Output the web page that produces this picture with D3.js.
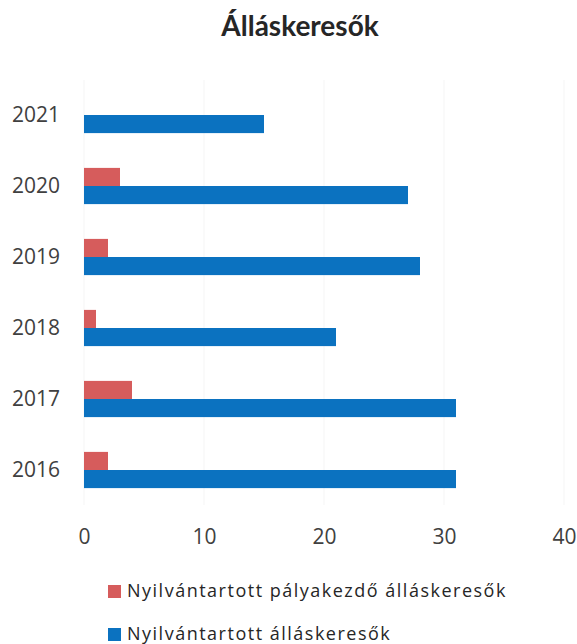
<!DOCTYPE html>
<html>
<head>
<meta charset="utf-8">
<script src="https://cdn.jsdelivr.net/npm/d3@7"></script>
<style>
  body { margin: 0; background: #fff; }
  svg { font-family: "Open Sans", sans-serif; }
</style>
</head>
<body>
<svg id="viz"></svg>
<script>
var width = 577;
var height = 644;

// data
var years = ["2021", "2020", "2019", "2018", "2017", "2016"];
var seriesNames = ["Nyilvántartott pályakezdő álláskeresők", "Nyilvántartott álláskeresők"];
var palyakezdo = [0, 3, 2, 1, 4, 2];
var allaskereso = [15, 27, 28, 21, 31, 31];
var xTicks = [0, 10, 20, 30, 40];
var colors = ["#d65c5c", "#0b72c0"];

var svg = d3.select("#viz")
    .attr("width", width)
    .attr("height", height);

var x = d3.scaleLinear()
    .domain([0, 40])
    .range([84, 564]);

var y = d3.scaleBand()
    .domain(years)
    .range([79.5, 505.5])
    .paddingInner(0.49)
    .paddingOuter(0.245);

var ySub = d3.scaleBand()
    .domain([0, 1])
    .range([0, y.bandwidth()]);

// title
svg.append("text")
    .attr("x", 300)
    .attr("y", 36)
    .attr("text-anchor", "middle")
    .style("font-family", "Lato, sans-serif")
    .style("font-size", "28px")
    .style("font-weight", "bold")
    .style("fill", "#262626")
    .text("Álláskeresők");

// faint gridlines
svg.append("g")
    .selectAll("line")
    .data(xTicks)
    .enter().append("line")
    .attr("x1", function (d) { return x(d); })
    .attr("x2", function (d) { return x(d); })
    .attr("y1", 80)
    .attr("y2", 505)
    .style("stroke", "#f5f5f5")
    .style("stroke-width", 1);

// bars
var groups = svg.append("g")
    .selectAll("g")
    .data(years)
    .enter().append("g")
    .attr("transform", function (d) { return "translate(0," + y(d) + ")"; });

groups.append("rect")
    .attr("x", x(0))
    .attr("y", ySub(0))
    .attr("height", ySub.bandwidth())
    .attr("width", function (d, i) { return x(palyakezdo[i]) - x(0); })
    .style("fill", colors[0]);

groups.append("rect")
    .attr("x", x(0))
    .attr("y", ySub(1))
    .attr("height", ySub.bandwidth())
    .attr("width", function (d, i) { return x(allaskereso[i]) - x(0); })
    .style("fill", colors[1]);

// y axis labels
var yAxis = d3.axisLeft(y).tickSize(0).tickPadding(0);
var yg = svg.append("g")
    .attr("transform", "translate(60,0)")
    .call(yAxis);
yg.select(".domain").remove();
yg.selectAll("text")
    .attr("text-anchor", "end")
    .attr("dy", "0.35em")
    .style("font-size", "21px")
    .style("font-family", "'Open Sans', sans-serif")
    .style("fill", "#404040");

// x axis labels
var xAxis = d3.axisBottom(x).tickValues(xTicks).tickSize(0).tickPadding(0);
var xg = svg.append("g")
    .attr("transform", "translate(0,529)")
    .call(xAxis);
xg.select(".domain").remove();
xg.selectAll("text")
    .attr("dy", "0.71em")
    .style("font-size", "21px")
    .style("font-family", "'Open Sans', sans-serif")
    .style("fill", "#404040");

// legend
var legend = svg.append("g")
    .selectAll("g")
    .data(seriesNames)
    .enter().append("g")
    .attr("transform", function (d, i) { return "translate(108," + (585 + i * 43) + ")"; });

legend.append("rect")
    .attr("width", 13)
    .attr("height", 13)
    .style("fill", function (d, i) { return colors[i]; });

legend.append("text")
    .attr("x", 19)
    .attr("y", 12)
    .style("font-size", "18px")
    .style("letter-spacing", "1.5px")
    .style("fill", "#262626")
    .text(function (d) { return d; });
</script>
</body>
</html>
